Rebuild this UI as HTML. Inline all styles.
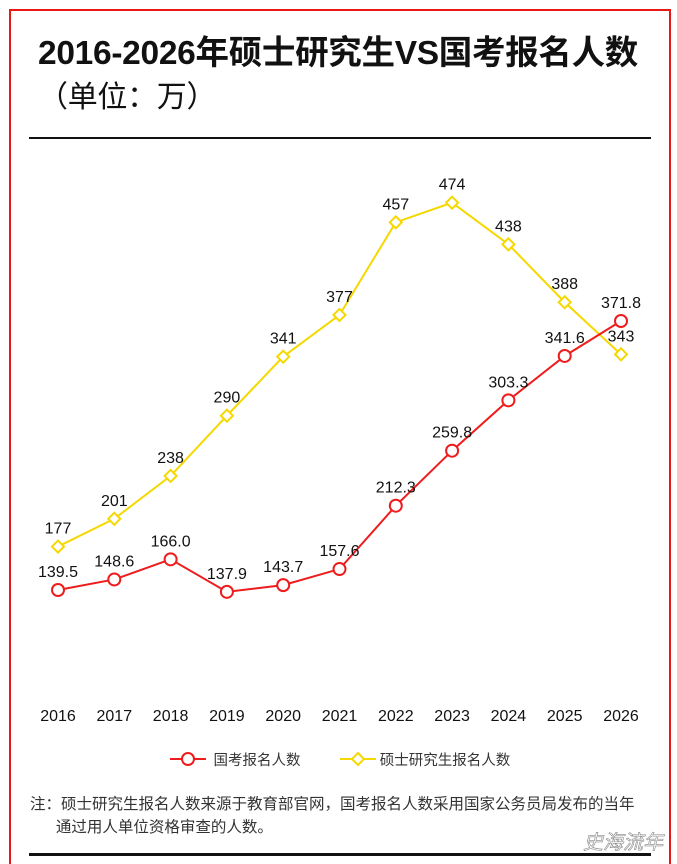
<!DOCTYPE html>
<html><head><meta charset="utf-8"><style>
body{margin:0;background:#fff;}
#wrap{position:relative;width:677px;height:864px;overflow:hidden;font-family:"Liberation Sans","Noto Sans CJK SC",sans-serif;}
.frame{position:absolute;left:9px;top:9px;width:658px;height:870px;border:2px solid #e81818;}
.title{position:absolute;left:38px;top:32px;font-size:33.5px;font-weight:bold;color:#111;line-height:43px;white-space:nowrap;letter-spacing:-0.3px;}
.hr{position:absolute;left:29px;width:622px;background:#111;}
.note{position:absolute;left:30px;top:793px;font-size:15.5px;color:#333;line-height:23px;white-space:nowrap;}
.wm{position:absolute;left:583px;top:826px;font-size:20px;color:#fff;-webkit-text-stroke:0.6px #888;font-style:italic;}
</style></head><body>
<div id="wrap">
<div class="frame"></div>
<div class="title">2016-2026年硕士研究生VS国考报名人数<br><span style="font-weight:normal;font-size:30px">（单位：万）</span></div>
<div class="hr" style="top:137px;height:2px"></div>
<svg id="chart" width="677" height="864" style="position:absolute;left:0;top:0"></svg>
<div class="note">注：硕士研究生报名人数来源于教育部官网，国考报名人数采用国家公务员局发布的当年<br>&nbsp;&nbsp;&nbsp;&nbsp;&nbsp;&nbsp;通过用人单位资格审查的人数。</div>
<div class="wm">史海流年</div>
<div class="hr" style="top:853px;height:3px"></div>
</div>
<script>
const years=["2016","2017","2018","2019","2020","2021","2022","2023","2024","2025","2026"];
const guokao=[139.5,148.6,166.0,137.9,143.7,157.6,212.3,259.8,303.3,341.6,371.8];
const guokaoLabels=["139.5","148.6","166.0","137.9","143.7","157.6","212.3","259.8","303.3","341.6","371.8"];
const kaoyan=[177,201,238,290,341,377,457,474,438,388,343];
const NS="http://www.w3.org/2000/svg";
const svg=document.getElementById('chart');
function xs(i){return 58+i*56.3;}
function ys(v){return 590-(v-139.5)*1.158;}
function mk(t,a){const e=document.createElementNS(NS,t);for(const k in a)e.setAttribute(k,a[k]);svg.appendChild(e);return e;}
function txt(x,y,s,size,fill,name){const e=mk('text',{x:x,y:y,'text-anchor':'middle','font-size':size,fill:fill,'font-family':'"Liberation Sans","Noto Sans CJK SC",sans-serif'});e.textContent=s;


return e;}
function series(vals,color,shape,name,labels){
 const pts=vals.map((v,i)=>xs(i)+','+ys(v)).join(' ');
 const l=mk('polyline',{points:pts,fill:'none',stroke:color,'stroke-width':2});
 
 
 vals.forEach((v,i)=>{
  const x=xs(i),y=ys(v);let m;
  if(shape==='circle')m=mk('circle',{cx:x,cy:y,r:6,fill:'#fff',stroke:color,'stroke-width':2});
  else m=mk('polygon',{points:`${x},${y-6} ${x+6},${y} ${x},${y+6} ${x-6},${y}`,fill:'#fff',stroke:color,'stroke-width':2});
  
  
  txt(x,y-13,labels[i],16,'#111',name+'-value-label');
 });
}
series(kaoyan,'#f5d800','diamond','kaoyan',kaoyan.map(String));
series(guokao,'#ee1c1c','circle','guokao',guokaoLabels);
years.forEach((y,i)=>txt(xs(i),721,y,16,'#111','x-tick-label'));
mk('line',{x1:170,y1:759,x2:206,y2:759,stroke:'#ee1c1c','stroke-width':2});
const lc=mk('circle',{cx:188,cy:759,r:6,fill:'#fff',stroke:'#ee1c1c','stroke-width':2});


const t1=txt(257,765,'国考报名人数',14.5,'#333','legend-guokao');
mk('line',{x1:340,y1:759,x2:376,y2:759,stroke:'#f5d800','stroke-width':2});
const ld=mk('polygon',{points:'358,753 364,759 358,765 352,759',fill:'#fff',stroke:'#f5d800','stroke-width':2});


const t2=txt(445,765,'硕士研究生报名人数',14.5,'#333','legend-kaoyan');
</script>
</body></html>
